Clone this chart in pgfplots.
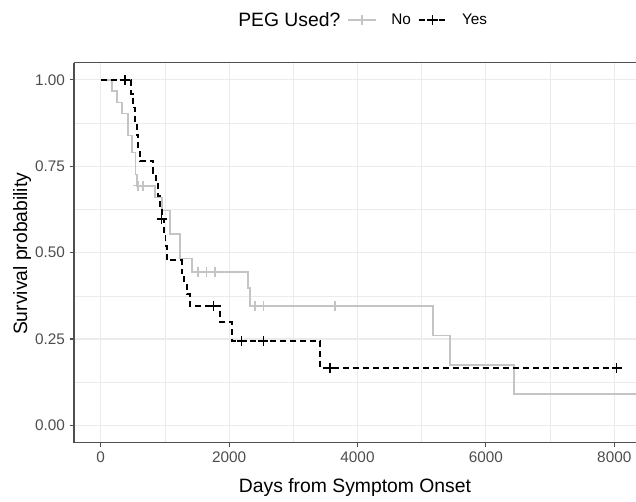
\documentclass[border=0pt]{standalone}
\usepackage{fontspec}
\setmainfont{Liberation Sans}
\usepackage{pgfplots}
\pgfplotsset{compat=1.18}
\definecolor{nogray}{RGB}{196,196,196}
\definecolor{ticktxt}{RGB}{77,77,77}
\definecolor{gridc}{RGB}{235,235,235}
\definecolor{framec}{RGB}{80,80,80}
\begin{document}
\begin{tikzpicture}
\begin{axis}[
 at={(0pt,0pt)}, anchor=south west,
 scale only axis, width=421.5pt, height=285pt,
 xmin=-416, xmax=8338, ymin=-0.05, ymax=1.05,
 axis x line=box, axis y line=left,
 axis line style={draw=framec, line width=1.1pt, -},
 xtick={0,2000,4000,6000,8000}, xticklabels={0,2000,4000,6000,8000},
 ytick={0,0.25,0.5,0.75,1}, yticklabels={0.00,0.25,0.50,0.75,1.00},
 minor xtick={1000,3000,5000,7000}, minor ytick={0.125,0.375,0.625,0.875},
 grid=both,
 major grid style={draw=gridc, line width=0.8pt},
 minor grid style={draw=gridc, line width=0.45pt},
 tick align=outside, xtick pos=left, ytick pos=left,
 major tick length=3.2pt, minor tick length=0pt,
 tick style={draw=framec, line width=0.8pt},
 ticklabel style={font=\fontsize{11.5}{13}\selectfont, text=ticktxt},
 xlabel={Days from Symptom Onset}, ylabel={Survival probability},
 label style={font=\fontsize{14.5}{17}\selectfont},
 xlabel style={at={(axis description cs:0.5,-0.13)}, anchor=base},
 ylabel style={at={(axis description cs:-0.0836,0.497)}, anchor=base},
 legend columns=-1,
 legend style={at={(axis description cs:0.503,1.112)}, anchor=center, draw=none, fill=none,
   font=\fontsize{11.5}{13}\selectfont,
   /tikz/every even column/.append style={column sep=3pt},
   /tikz/every odd column/.append style={column sep=9pt}},
 legend image code/.code={\draw[mark repeat=2,mark phase=2,#1] plot coordinates {(0pt,0pt) (10.5pt,0pt) (21pt,0pt)};},
 clip=true,
]
\addlegendimage{empty legend}
\addlegendentry{\fontsize{14.5}{17}\selectfont PEG Used?}
\addlegendimage{nogray, line width=1.3pt, mark=+, mark size=3.8pt, mark options={solid, line width=1.1pt}}
\addlegendentry{No}
\addlegendimage{black, line width=1.3pt, dash pattern=on 4.5pt off 3pt, mark=+, mark size=3.8pt, mark options={solid, line width=1.2pt}}
\addlegendentry{Yes}

% No group
\addplot[const plot, nogray, line width=1.3pt, forget plot] coordinates {
(0,1.0) (171,0.968) (249,0.935) (327,0.903) (430,0.839) (483,0.79) (540,0.726) (561,0.694)
(850,0.66) (950,0.622) (1080,0.555) (1235,0.483) (1417,0.445) (2299,0.397) (2325,0.345)
(5171,0.26) (5441,0.175) (6438,0.09) (8600,0.09)};
\addplot[only marks, mark=+, mark size=3.8pt, nogray, line width=1.1pt, forget plot] coordinates {
(580,0.694) (660,0.694) (1516,0.445) (1651,0.445) (1780,0.445) (2403,0.345) (2533,0.345) (3650,0.345)};

% Yes group
\addplot[const plot, black, line width=1.3pt, dash pattern=on 4.5pt off 3pt, forget plot] coordinates {
(0,1.0) (470,0.96) (500,0.92) (530,0.88) (560,0.84) (585,0.80) (610,0.765)
(820,0.73) (860,0.70) (890,0.665) (920,0.632) (950,0.598) (985,0.56) (1010,0.52) (1028,0.478)
(1262,0.44) (1300,0.41) (1340,0.38) (1391,0.346) (1858,0.30) (2040,0.245) (3416,0.166) (8037,0.166)};
\addplot[only marks, mark=+, mark size=3.8pt, black, line width=1.2pt, forget plot] coordinates {
(378,1.0) (950,0.598) (1754,0.346) (2196,0.245) (2533,0.245) (3572,0.166) (8037,0.166)};
\end{axis}
\pgfresetboundingbox
\useasboundingbox (-55.5pt,-44.5pt) rectangle (421.5pt,332pt);
\end{tikzpicture}
\end{document}
